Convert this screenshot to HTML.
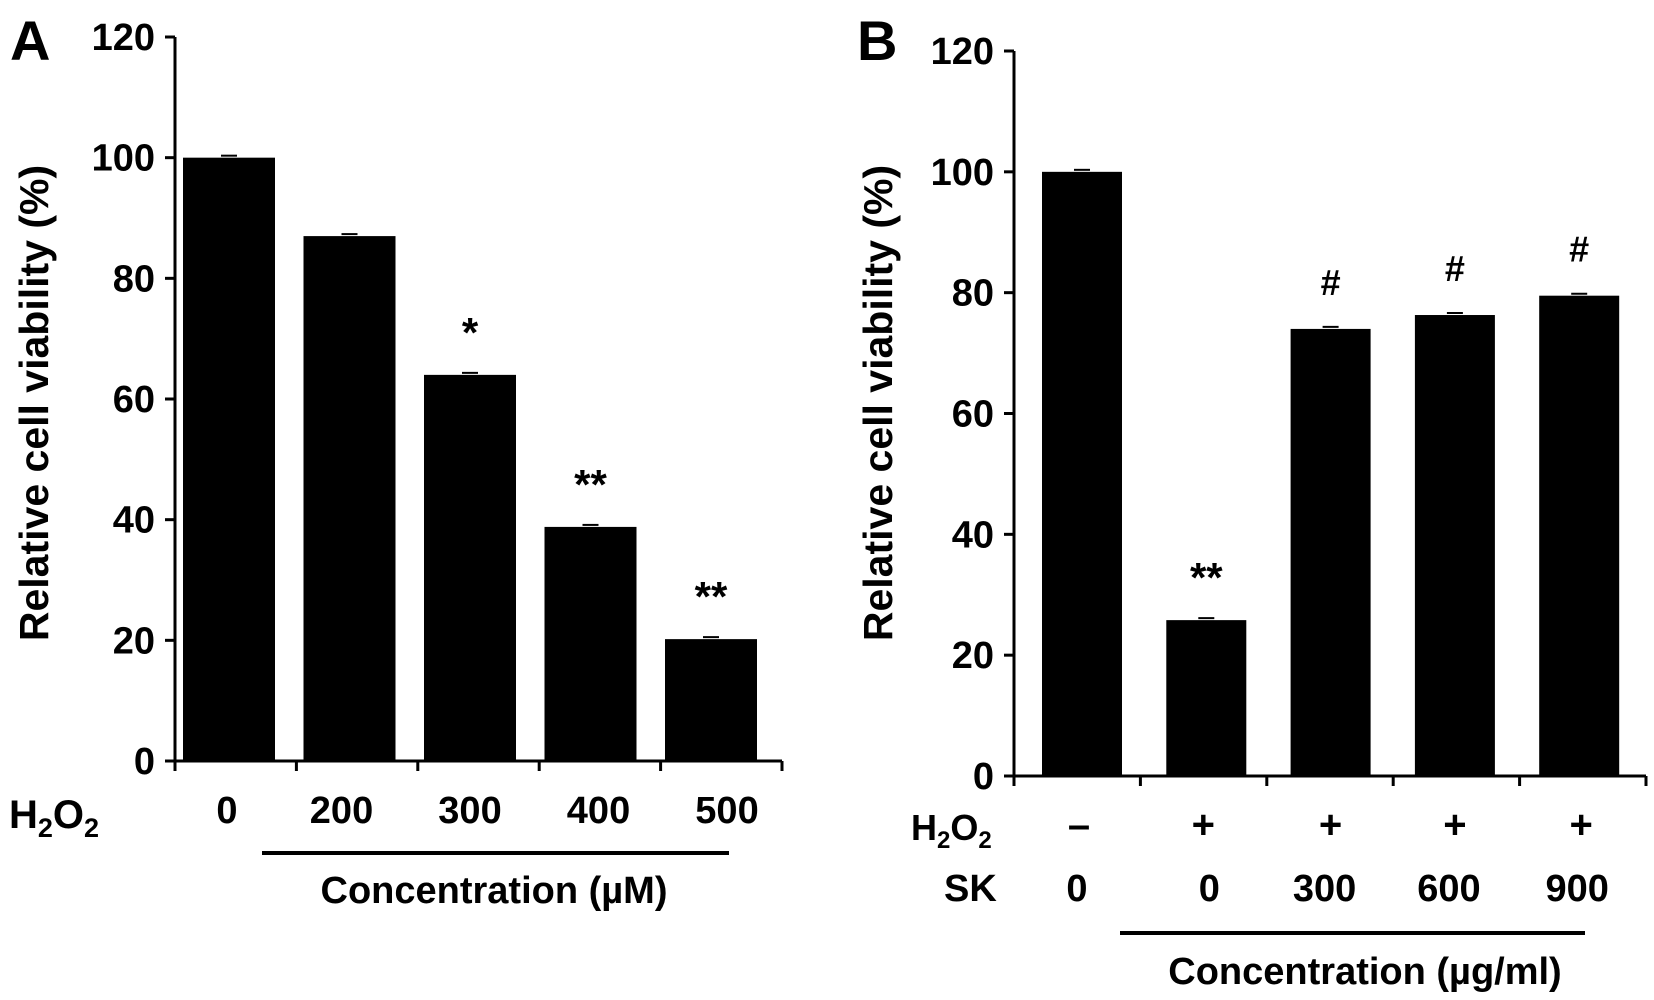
<!DOCTYPE html>
<html><head><meta charset="utf-8"><style>
html,body{margin:0;padding:0;background:#fff;}
svg{display:block;font-family:"Liberation Sans",Arial,sans-serif;font-weight:bold;}
</style></head><body>
<svg id="chart" width="1654" height="1000" viewBox="0 0 1654 1000" xmlns="http://www.w3.org/2000/svg">
<g id="pa"></g>
<g id="pb"></g>
</svg>
<script>
const aCategories = ["0","200","300","400","500"];
const aValues = [100, 87, 64, 38.8, 20.2];
const aMarks = ["", "", "*", "**", "**"];
const bH2O2 = ["\u2013","+","+","+","+"];
const bCategories = ["0","0","300","600","900"];
const bValues = [100, 25.8, 74, 76.3, 79.5];
const bMarks = ["", "**", "#", "#", "#"];
const yTicks = [0,20,40,60,80,100,120];

const NS="http://www.w3.org/2000/svg";
function el(parent,tag,attrs,text){const e=document.createElementNS(NS,tag);for(const k in attrs)e.setAttribute(k,attrs[k]);if(text!==undefined)e.textContent=text;parent.appendChild(e);return e;}

function panel(g,cfg,cats,vals,marks){
  const y=v=>cfg.y0-(cfg.y0-cfg.y120)*v/120;
  const x=i=>cfg.c0+cfg.step*i;
  let a=el(g,'line',{x1:cfg.ax,y1:cfg.y120,x2:cfg.ax,y2:cfg.y0+1.5,stroke:'#000','stroke-width':3});
  
  a=el(g,'line',{x1:cfg.ax-1.5,y1:cfg.y0,x2:cfg.xEnd,y2:cfg.y0,stroke:'#000','stroke-width':3});
  
  yTicks.forEach(t=>{
    let tk=el(g,'line',{x1:cfg.ax-10,y1:y(t),x2:cfg.ax,y2:y(t),stroke:'#000','stroke-width':3});
    
    let tl=el(g,'text',{x:cfg.ax-20,y:y(t)+13,'text-anchor':'end','font-size':38},String(t));
    
  });
  const tstep=(cfg.xEnd-cfg.ax)/cats.length;
  for(let i=0;i<=cats.length;i++){
    const xx=cfg.ax+tstep*i;
    let tk=el(g,'line',{x1:xx,y1:cfg.y0,x2:xx,y2:cfg.y0+10,stroke:'#000','stroke-width':3});
    
  }
  vals.forEach((v,i)=>{
    const bw=cfg.bw;
    let b=el(g,'rect',{x:x(i)-bw/2,y:y(v),width:bw,height:cfg.y0-y(v),fill:'#000'});
    
    let e=el(g,'line',{x1:x(i)-8,y1:y(v)-2,x2:x(i)+8,y2:y(v)-2,stroke:'#000','stroke-width':2});
    
    if(marks[i]){
      const hash=marks[i]==='#';
      let m=el(g,'text',{x:x(i),y:y(v)-(hash?34:28),'text-anchor':'middle','font-size':hash?36:42},marks[i]);
      
    }
  });
  return x;
}

const ga=document.getElementById('pa');
const xa=panel(ga,{ax:175,xEnd:782,y0:761,y120:37,c0:229,step:120.5,bw:92},aCategories,aValues,aMarks);
const aOff=[-2,-8,0,8,16];
aCategories.forEach((c,i)=>{let t=el(ga,'text',{x:xa(i)+aOff[i],y:823,'text-anchor':'middle','font-size':38},c);
});
let t=el(ga,'text',{x:9,y:828,'font-size':40});t.innerHTML='H<tspan font-size="27" dy="9">2</tspan><tspan dy="-9">O</tspan><tspan font-size="27" dy="9">2</tspan>';

t=el(ga,'line',{x1:262,y1:853,x2:729,y2:853,stroke:'#000','stroke-width':4});
t=el(ga,'text',{x:494,y:903,'text-anchor':'middle','font-size':38},'Concentration (\u00b5M)');
t=el(ga,'text',{x:0,y:0,'text-anchor':'middle','font-size':41,transform:'translate(48,403) rotate(-90)'},'Relative cell viability (%)');
t=el(ga,'text',{x:10,y:60,'font-size':56},'A');

const gb=document.getElementById('pb');
const xb=panel(gb,{ax:1014,xEnd:1646,y0:776,y120:51,c0:1082,step:124.3,bw:80},bCategories,bValues,bMarks);
const hOff=[-3,-3,0,0,2];
const sOff=[-5,3,-6,-6,-2];
bH2O2.forEach((c,i)=>{let s=el(gb,'text',{x:xb(i)+hOff[i],y:838,'text-anchor':'middle','font-size':40},c);
});
bCategories.forEach((c,i)=>{let s=el(gb,'text',{x:xb(i)+sOff[i],y:901,'text-anchor':'middle','font-size':38},c);
});
t=el(gb,'text',{x:911,y:840,'font-size':36});t.innerHTML='H<tspan font-size="24" dy="8">2</tspan><tspan dy="-8">O</tspan><tspan font-size="24" dy="8">2</tspan>';

t=el(gb,'text',{x:944,y:901,'font-size':38},'SK');
t=el(gb,'line',{x1:1120,y1:933,x2:1585,y2:933,stroke:'#000','stroke-width':4});
t=el(gb,'text',{x:1365,y:984,'text-anchor':'middle','font-size':38},'Concentration (\u00b5g/ml)');
t=el(gb,'text',{x:0,y:0,'text-anchor':'middle','font-size':41,transform:'translate(892,403) rotate(-90)'},'Relative cell viability (%)');
t=el(gb,'text',{x:857,y:60,'font-size':56},'B');
</script>
</body></html>
